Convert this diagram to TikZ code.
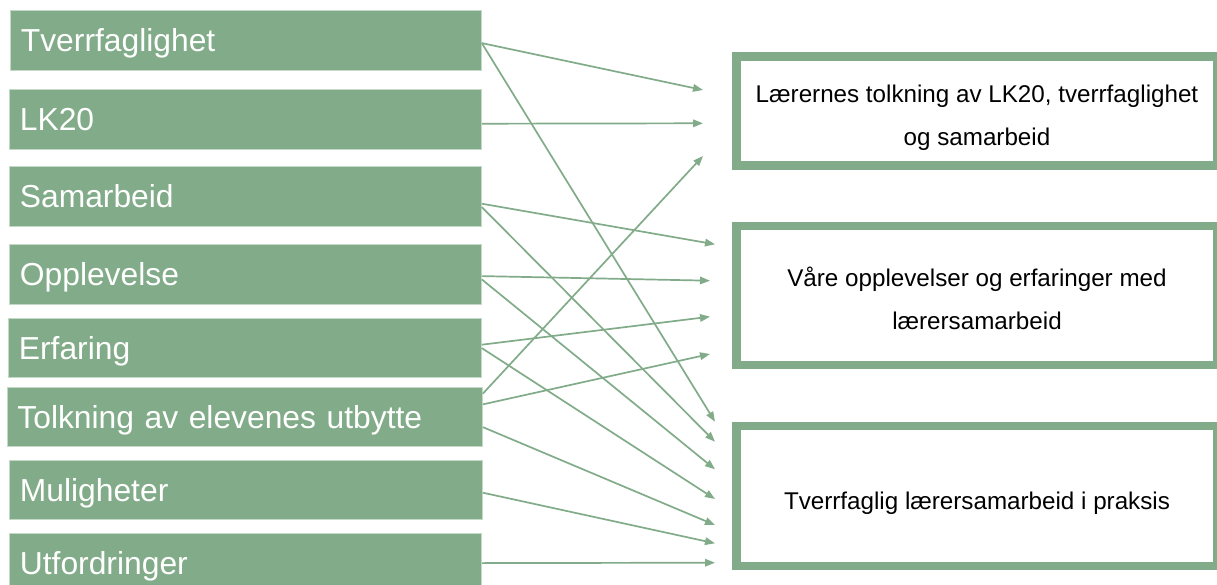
\documentclass[tikz,border=0pt]{standalone}
\usepackage{fontspec}
\setmainfont{Liberation Sans}
\usetikzlibrary{arrows.meta,calc}
\definecolor{sage}{RGB}{130,172,137}
\definecolor{sageedge}{RGB}{196,218,199}
\tikzset{
  leftbox/.style={anchor=north west, fill=sage, draw=sageedge, line width=0.8pt,
    minimum height=60pt, inner xsep=10.5pt, inner ysep=0pt, align=left,
    text=white, font=\fontsize{31.8}{36}\selectfont,
    text height=23pt, text depth=0pt},
  rightbox/.style={draw=sage, line width=8.5pt, minimum width=481pt,
    inner sep=0pt, font=\fontsize{24.2}{43}\selectfont, text=black},
  link/.style={draw=sage, line width=1.7pt, -{Triangle[length=10pt,width=7.5pt]}}
}
\setlength{\tabcolsep}{0pt}
\begin{document}
\begin{tikzpicture}[x=1pt,y=-1pt]
\useasboundingbox[fill=white] (0,0) rectangle (1217,585);
% left boxes
\node[leftbox, minimum width=471pt, text width=450pt] (L1) at (10,10) {Tverrfaglighet};
\node[leftbox, minimum width=472pt, text width=451pt] (L2) at (9,89) {LK20};
\node[leftbox, minimum width=472pt, text width=451pt] (L3) at (9,166) {Samarbeid};
\node[leftbox, minimum width=472pt, text width=451pt] (L4) at (9,244) {Opplevelse};
\node[leftbox, minimum width=473pt, text width=452pt, minimum height=59pt] (L5) at (8,318) {Erfaring};
\node[leftbox, minimum width=475.5pt, text width=454.5pt, minimum height=59pt] (L6) at (6.5,387) {Tolkning av elevenes utbytte};
\node[leftbox, minimum width=473pt, text width=452pt, minimum height=59pt] (L7) at (9,460) {Muligheter};
\node[leftbox, minimum width=472pt, text width=451pt] (L8) at (9,533) {Utfordringer};
% right boxes
\node[rightbox, minimum height=109pt, text height=69pt, text depth=0pt] (R1) at (977,111)
  {\begin{tabular}[b]{c}Lærernes tolkning av LK20, tverrfaglighet\\og samarbeid\end{tabular}};
\node[rightbox, minimum height=139pt, text height=68pt, text depth=0pt] (R2) at (977,295.5)
  {\begin{tabular}[b]{c}Våre opplevelser og erfaringer med\\lærersamarbeid\end{tabular}};
\node[rightbox, minimum height=140pt, text height=26.3pt, text depth=0pt] (R3) at (977,496)
  {Tverrfaglig lærersamarbeid i praksis};
% arrow end points
\coordinate (e1) at (703,90);
\coordinate (e2) at (715,421.7);
\coordinate (e3) at (703,123.3);
\coordinate (e4) at (715,244.3);
\coordinate (e5) at (715,441.7);
\coordinate (e6) at (710,280.7);
\coordinate (e7) at (715,469.3);
\coordinate (e8) at (710,316.7);
\coordinate (e9) at (715,499);
\coordinate (e10) at (703,156);
\coordinate (e11) at (710,354);
\coordinate (e12) at (715,525);
\coordinate (e13) at (715,543.3);
\coordinate (e14) at (715,562.7);
% connectors
\draw[link] ($(L1.east)+(0,2.7)$) -- (e1);
\draw[link] ($(L1.east)+(0,2.7)$) -- (e2);
\draw[link] ($(L2.east)+(0,4.3)$) -- (e3);
\draw[link] ($(L3.east)+(0,7.3)$) -- (e4);
\draw[link] ($(L3.east)+(0,10.7)$) -- (e5);
\draw[link] ($(L4.east)+(0,1.7)$) -- (e6);
\draw[link] ($(L4.east)+(0,5)$) -- (e7);
\draw[link] ($(L5.east)+(0,-3.2)$) -- (e8);
\draw[link] ($(L5.east)+(0,0.2)$) -- (e9);
\draw[link] ($(L6.east)+(0,-23.2)$) -- (e10);
\draw[link] ($(L6.east)+(0,-12.5)$) -- (e11);
\draw[link] ($(L6.east)+(0,10.2)$) -- (e12);
\draw[link] ($(L7.east)+(0,2.8)$) -- (e13);
\draw[link] ($(L8.east)+(0,-0.3)$) -- (e14);
\end{tikzpicture}
\end{document}
